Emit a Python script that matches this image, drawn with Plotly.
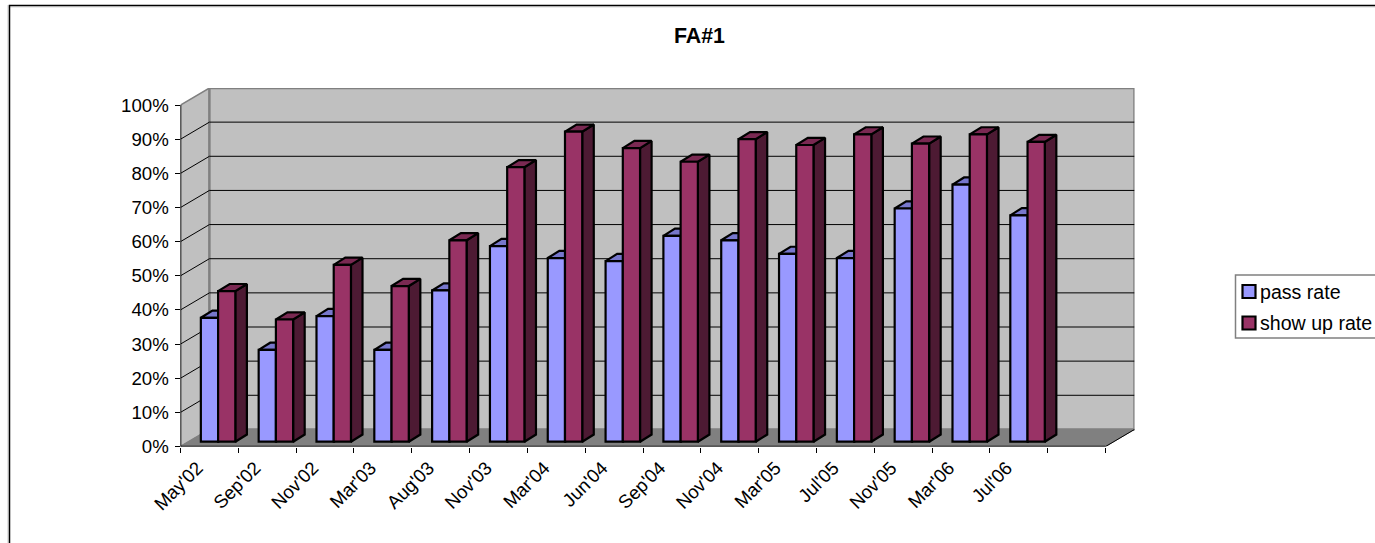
import plotly.graph_objects as go

categories = ["May'02", "Sep'02", "Nov'02", "Mar'03", "Aug'03", "Nov'03", "Mar'04", "Jun'04",
              "Sep'04", "Nov'04", "Mar'05", "Jul'05", "Nov'05", "Mar'06", "Jul'06"]
pass_rate = [36.3, 26.9, 36.8, 26.9, 44.3, 57.3, 53.8, 52.9, 60.3, 59, 55, 53.8, 68.3, 75.3, 66.3]
show_up_rate = [44.1, 35.8, 51.8, 45.6, 59, 80.4, 90.8, 86, 82, 88.6, 86.9, 90, 87.3, 90, 87.8]
y_ticks = list(range(0, 101, 10))
series_names = ["pass rate", "show up rate"]

W, H = 1375, 543
X0_PX, X1_PX, Y0_PX, Y1_PX = 180.5, 1134.5, 446.5, 88.0
N_SLOTS = 16
WALL_DX, WALL_DY = 0.5, 5.0        # depth of the box in axis units
LIFT = 1.4                         # bars stand slightly behind the front edge
BAR_DX, BAR_DY = 0.2, 2.1          # depth of each bar
BAR_W = 0.298
OFFSETS = [0.352, 0.65]
TICK_SIZE = 18.67

x_range = [0, N_SLOTS + WALL_DX]
y_range = [0, 100 + WALL_DY]

fig = go.Figure()
BLK = dict(color="black", width=2.2)


def faces(values, off):
    top_x, top_y, side_x, side_y = [], [], [], []
    for i, v in enumerate(values):
        l = i + off
        r = l + BAR_W
        t = v + LIFT
        top_x += [l, l + BAR_DX, r + BAR_DX, r, l, None]
        top_y += [t, t + BAR_DY, t + BAR_DY, t, t, None]
        side_x += [r, r + BAR_DX, r + BAR_DX, r, r, None]
        side_y += [t, t + BAR_DY, LIFT + BAR_DY, LIFT, t, None]
    return top_x, top_y, side_x, side_y


series = [(series_names[0], pass_rate, "#9999FF", "#7777CC", "#4D4D80"),
          (series_names[1], show_up_rate, "#993366", "#7A2952", "#4D1A33")]
for k, (name, vals, col, top, side) in enumerate(series):
    tx, ty, sx, sy = faces(vals, OFFSETS[k])
    fig.add_trace(go.Scatter(x=sx, y=sy, mode="lines", fill="toself", fillcolor=side, line=BLK,
                             showlegend=False, hoverinfo="skip"))
    fig.add_trace(go.Scatter(x=tx, y=ty, mode="lines", fill="toself", fillcolor=top, line=BLK,
                             showlegend=False, hoverinfo="skip"))
for k, (name, vals, col, top, side) in enumerate(series):
    fig.add_trace(go.Bar(name=name, x=list(range(len(vals))), y=vals, base=LIFT, width=BAR_W,
                         offset=OFFSETS[k], marker=dict(color=col, line=dict(color="black", width=2.2)),
                         xaxis="x2", yaxis="y", showlegend=False))

shapes = []
annotations = []
GRAY = "#808080"
# outer frame with its faint shadow
shapes.append(dict(type="line", xref="paper", yref="paper", x0=8 / W, x1=8 / W, y0=1 - 5 / H, y1=-0.01,
                   line=dict(color="#C8C8C8", width=1), layer="below"))
shapes.append(dict(type="line", xref="paper", yref="paper", x0=8 / W, x1=1.01, y0=1 - 7 / H, y1=1 - 7 / H,
                   line=dict(color="#D8D8D8", width=1), layer="below"))
shapes.append(dict(type="rect", xref="paper", yref="paper", x0=9.5 / W, x1=1.01, y0=1 - 5.5 / H, y1=-0.01,
                   line=dict(color="black", width=1.5), layer="below"))
# walls and floor
shapes.append(dict(type="path", xref="x", yref="y", layer="below", fillcolor="#C0C0C0",
                   line=dict(color=GRAY, width=1.5),
                   path=f"M0,0 L{WALL_DX},{WALL_DY} L{WALL_DX},{100 + WALL_DY} L0,100 Z"))
shapes.append(dict(type="rect", xref="x", yref="y", layer="below", fillcolor="#C0C0C0",
                   line=dict(color=GRAY, width=2.5),
                   x0=WALL_DX, x1=N_SLOTS + WALL_DX, y0=WALL_DY, y1=100 + WALL_DY))
shapes.append(dict(type="path", xref="x", yref="y", layer="below", fillcolor=GRAY,
                   line=dict(color=GRAY, width=1),
                   path=f"M0,0 L{WALL_DX},{WALL_DY} L{N_SLOTS + WALL_DX},{WALL_DY} L{N_SLOTS},0 Z"))
# gridlines on both walls
for t in y_ticks[1:-1]:
    shapes.append(dict(type="line", xref="x", yref="y", layer="below", x0=0, y0=t,
                       x1=WALL_DX, y1=t + WALL_DY, line=dict(color="black", width=1)))
    shapes.append(dict(type="line", xref="x", yref="y", layer="below", x0=WALL_DX, y0=t + WALL_DY,
                       x1=N_SLOTS + WALL_DX, y1=t + WALL_DY, line=dict(color="black", width=1)))
# front axis lines and right floor edge
shapes.append(dict(type="line", xref="x", yref="y", x0=0, y0=0, x1=0, y1=100, line=dict(color="black", width=1.5)))
shapes.append(dict(type="line", xref="x", yref="y", x0=0, y0=0, x1=N_SLOTS, y1=0, line=dict(color="black", width=1.5)))
shapes.append(dict(type="line", xref="x", yref="y", x0=N_SLOTS, y0=0, x1=N_SLOTS + WALL_DX, y1=WALL_DY,
                   line=dict(color="black", width=1)))
# legend box, swatches and labels
shapes.append(dict(type="rect", xref="paper", yref="paper", x0=1235.5 / W, x1=1.01, y0=1 - 275 / H, y1=1 - 338 / H,
                   line=dict(color=GRAY, width=1.5), layer="below", fillcolor="white"))
for k, (name, col, cy) in enumerate(zip(series_names, ["#9999FF", "#993366"], [291.5, 323])):
    shapes.append(dict(type="rect", xref="paper", yref="paper", x0=1242.5 / W, x1=1255.5 / W,
                       y0=1 - (cy - 6.5) / H, y1=1 - (cy + 6.5) / H, fillcolor=col,
                       line=dict(color="black", width=2.2)))
    annotations.append(dict(xref="paper", yref="paper", x=1260 / W, y=1 - cy / H, xanchor="left", yanchor="middle",
                            text=name, showarrow=False, font=dict(size=19.6), xshift=-2))

dom_x = [X0_PX / W, X1_PX / W]
dom_y = [1 - Y0_PX / H, 1 - Y1_PX / H]
FONT = "Liberation Sans, Arial, sans-serif"
fig.update_layout(
    width=W, height=H, margin=dict(l=0, r=0, t=0, b=0, autoexpand=False),
    paper_bgcolor="white", plot_bgcolor="rgba(0,0,0,0)",
    font=dict(family=FONT, size=TICK_SIZE, color="black"),
    title=dict(text="<b>FA#1</b>", x=699.5 / W, xanchor="center", y=1 - 35.5 / H, yanchor="middle",
               font=dict(size=21.33, family=FONT)),
    shapes=shapes,
    annotations=annotations,
    barmode="overlay",
    xaxis=dict(domain=dom_x, range=x_range, showgrid=False, zeroline=False, showline=False,
               tickmode="array", tickvals=[i + 0.5 for i in range(len(categories))], ticktext=categories,
               ticks="", tickangle=-45, tickfont=dict(size=TICK_SIZE), ticklabelshift=-12, ticklabelstandoff=6,
               minor=dict(tickmode="array", tickvals=list(range(N_SLOTS + 1)), ticks="outside", ticklen=5,
                          tickwidth=1, tickcolor="black", showgrid=False)),
    xaxis2=dict(domain=dom_x, range=x_range, overlaying="x", anchor="y", visible=False),
    yaxis=dict(domain=dom_y, range=y_range, showgrid=False, zeroline=False, showline=False,
               tickmode="array", tickvals=y_ticks, ticktext=[f"{t}%" for t in y_ticks],
               ticks="outside", ticklen=5, tickwidth=1, tickcolor="black", tickfont=dict(size=TICK_SIZE),
               ticklabelstandoff=2),
    showlegend=False,
)
fig.write_html("out.html", config=dict(displayModeBar=False),
               post_script="document.body.style.margin='0';document.body.style.overflow='hidden';")
